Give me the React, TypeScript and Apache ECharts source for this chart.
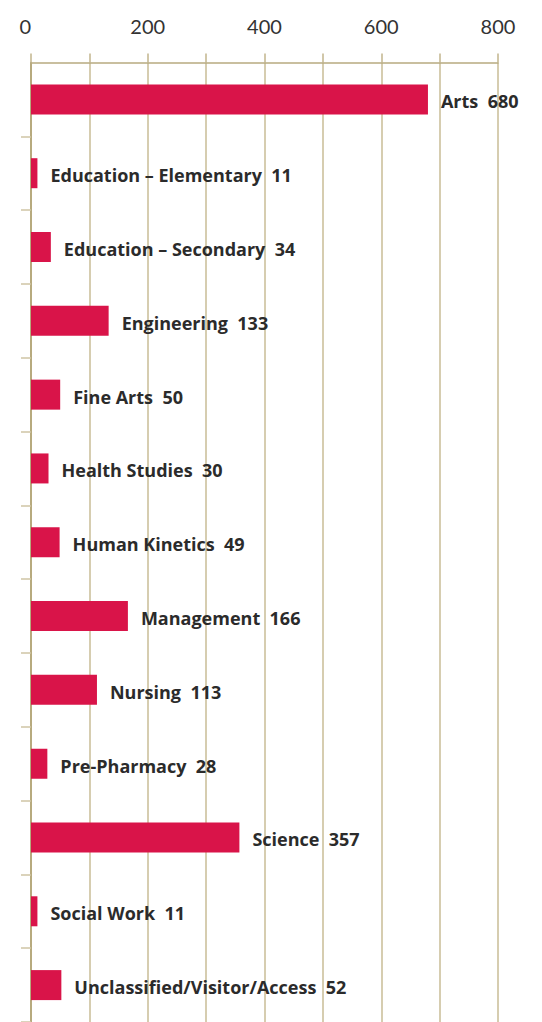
import React, { useEffect, useRef } from "react";
import * as echarts from "echarts";

const categories = [
  "Arts",
  "Education – Elementary",
  "Education – Secondary",
  "Engineering",
  "Fine Arts",
  "Health Studies",
  "Human Kinetics",
  "Management",
  "Nursing",
  "Pre-Pharmacy",
  "Science",
  "Social Work",
  "Unclassified/Visitor/Access",
];
const values = [680, 11, 34, 133, 50, 30, 49, 166, 113, 28, 357, 11, 52];
const xMin = 0;
const xMax = 800;
const xInterval = 100;

export default function App() {
  const ref = useRef<HTMLDivElement>(null);
  useEffect(() => {
    if (!ref.current) return;
    const chart = echarts.init(ref.current, null, { renderer: "svg" });
    chart.setOption({
      animation: false,
      backgroundColor: "#ffffff",
      grid: { left: 31, top: 62.5, width: 467, height: 970, containLabel: false },
      xAxis: {
        type: "value",
        position: "top",
        min: xMin,
        max: xMax,
        interval: xInterval,
        axisLine: { show: true, lineStyle: { color: "#b8aa80", width: 1.5 } },
        axisTick: { show: true, length: 9, lineStyle: { color: "#c2b58c", width: 1.5 } },
        splitLine: { show: true, lineStyle: { color: "#c8bc96", width: 1.5 } },
        axisLabel: {
          margin: 27,
          fontFamily: "Lato",
          fontSize: 20,
          color: "#333333",
          alignMinLabel: "right",
          formatter: (v: number) => (v % 200 === 0 ? String(v) : ""),
        },
      },
      yAxis: {
        type: "category",
        inverse: true,
        data: categories,
        axisLine: { show: true, lineStyle: { color: "#ad9e6e", width: 1.5 } },
        axisTick: {
          show: true,
          length: 10,
          interval: (i: number) => i !== 0,
          lineStyle: { color: "#cfc4a4", width: 1.5 },
        },
        axisLabel: { show: false },
        splitLine: { show: false },
      },
      series: [
        {
          type: "bar",
          data: values,
          barWidth: 30,
          itemStyle: { color: "#d91449" },
          label: {
            show: true,
            position: "right",
            distance: 13,
            offset: [0, 2],
            formatter: (p: any) => `${p.name}  ${p.value}`,
            fontFamily: "Open Sans",
            fontWeight: "bold",
            fontSize: 18,
            color: "#2b2b2b",
          },
        },
      ],
    });
    return () => chart.dispose();
  }, []);
  return (
    <div
      ref={ref}
      style={{ position: "absolute", left: 0, top: 0, width: 542, height: 1022, overflow: "hidden" }}
    />
  );
}
